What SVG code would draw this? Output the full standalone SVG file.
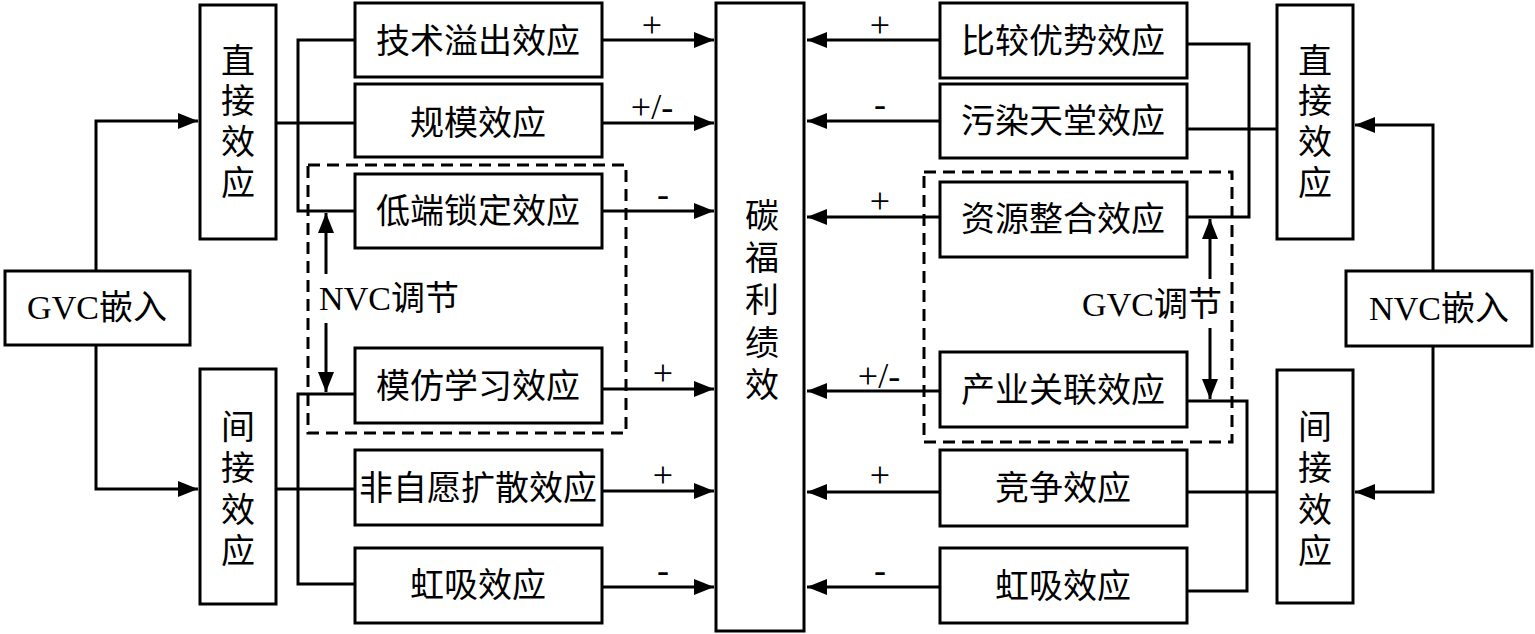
<svg xmlns="http://www.w3.org/2000/svg" width="1535" height="634" viewBox="0 0 1535 634">
<defs>
<style>
.box{fill:#fff;stroke:#000;stroke-width:3}
.dash{fill:none;stroke:#000;stroke-width:3;stroke-dasharray:12 7}
.ln{fill:none;stroke:#000;stroke-width:3}
.t{font-family:"Liberation Serif","Noto Sans CJK SC",serif;font-size:34px;text-anchor:middle;dominant-baseline:central;fill:#000}
.s{font-family:"Liberation Serif",serif;font-size:36px;text-anchor:middle;fill:#000}
</style>
<marker id="ah" markerUnits="userSpaceOnUse" markerWidth="22" markerHeight="16" refX="20" refY="8" orient="auto">
<path d="M0,0 L20,8 L0,16 Z" fill="#000"/>
</marker>
</defs>
<rect width="1535" height="634" fill="#fff"/>

<g id="connectors">
<path class="ln" d="M96,271 V121 H198" marker-end="url(#ah)"/>
<path class="ln" d="M96,345 V489 H198" marker-end="url(#ah)"/>
<path class="ln" d="M276,123 H355"/>
<path class="ln" d="M355,40 H298 V211 H355"/>
<path class="ln" d="M276,489 H355"/>
<path class="ln" d="M355,394 H298 V584 H355"/>
<path class="ln" d="M602,40 H714" marker-end="url(#ah)"/>
<path class="ln" d="M602,123 H714" marker-end="url(#ah)"/>
<path class="ln" d="M602,211 H714" marker-end="url(#ah)"/>
<path class="ln" d="M602,389 H714" marker-end="url(#ah)"/>
<path class="ln" d="M602,491 H714" marker-end="url(#ah)"/>
<path class="ln" d="M602,587 H714" marker-end="url(#ah)"/>
<path class="ln" d="M940,40 H807" marker-end="url(#ah)"/>
<path class="ln" d="M940,121 H807" marker-end="url(#ah)"/>
<path class="ln" d="M940,217 H807" marker-end="url(#ah)"/>
<path class="ln" d="M940,391 H807" marker-end="url(#ah)"/>
<path class="ln" d="M940,492 H807" marker-end="url(#ah)"/>
<path class="ln" d="M940,587 H807" marker-end="url(#ah)"/>
<path class="ln" d="M1433,271 V125 H1355" marker-end="url(#ah)"/>
<path class="ln" d="M1433,346 V492 H1355" marker-end="url(#ah)"/>
<path class="ln" d="M1187,129 H1277"/>
<path class="ln" d="M1187,44 H1249 V217 H1187"/>
<path class="ln" d="M1187,492 H1277"/>
<path class="ln" d="M1187,401 H1247 V591 H1187"/>
<path class="ln" d="M326,274 V213" marker-end="url(#ah)"/>
<path class="ln" d="M326,323 V392" marker-end="url(#ah)"/>
<path class="ln" d="M1210,279 V219" marker-end="url(#ah)"/>
<path class="ln" d="M1210,328 V399" marker-end="url(#ah)"/>
<text class="s" x="652" y="37">+</text>
<text class="s" x="652" y="119">+/-</text>
<text class="s" x="663" y="206">-</text>
<text class="s" x="663" y="385">+</text>
<text class="s" x="663" y="487">+</text>
<text class="s" x="663" y="582">-</text>
<text class="s" x="880" y="37">+</text>
<text class="s" x="880" y="116">-</text>
<text class="s" x="880" y="213">+</text>
<text class="s" x="879" y="388">+/-</text>
<text class="s" x="880" y="487">+</text>
<text class="s" x="880" y="582">-</text>
</g>

<g id="nvc-mod">
<rect class="dash" x="308" y="165" width="318" height="268"/>
<text class="t" x="389" y="298">NVC调节</text>
</g>
<g id="gvc-mod">
<rect class="dash" x="924" y="172" width="308" height="270"/>
<text class="t" x="1152" y="304">GVC调节</text>
</g>

<g id="gvc-embed"><rect class="box" x="5" y="271" width="185" height="74"/><text class="t" x="97" y="307">GVC嵌入</text></g>
<g id="l-direct"><rect class="box" x="200" y="5" width="76" height="234"/>
<text class="t" x="238" y="61">直</text><text class="t" x="238" y="101">接</text><text class="t" x="238" y="142">效</text><text class="t" x="238" y="183">应</text></g>
<g id="l-indirect"><rect class="box" x="200" y="369" width="76" height="235"/>
<text class="t" x="238" y="427">间</text><text class="t" x="238" y="468">接</text><text class="t" x="238" y="510">效</text><text class="t" x="238" y="551">应</text></g>

<g id="l1"><rect class="box" x="355" y="3" width="247" height="74"/><text class="t" x="478" y="41">技术溢出效应</text></g>
<g id="l2"><rect class="box" x="355" y="84" width="247" height="73"/><text class="t" x="478" y="123">规模效应</text></g>
<g id="l3"><rect class="box" x="355" y="174" width="247" height="74"/><text class="t" x="478" y="211">低端锁定效应</text></g>
<g id="l4"><rect class="box" x="355" y="348" width="247" height="75"/><text class="t" x="478" y="386">模仿学习效应</text></g>
<g id="l5"><rect class="box" x="355" y="450" width="247" height="75"/><text class="t" x="478" y="488">非自愿扩散效应</text></g>
<g id="l6"><rect class="box" x="355" y="548" width="247" height="75"/><text class="t" x="478" y="585">虹吸效应</text></g>

<g id="center"><rect class="box" x="716" y="3" width="88" height="628"/>
<text class="t" x="762" y="216">碳</text><text class="t" x="762" y="258">福</text><text class="t" x="762" y="300">利</text><text class="t" x="762" y="343">绩</text><text class="t" x="762" y="385">效</text></g>

<g id="r1"><rect class="box" x="940" y="3" width="247" height="75"/><text class="t" x="1063" y="41">比较优势效应</text></g>
<g id="r2"><rect class="box" x="940" y="84" width="247" height="74"/><text class="t" x="1063" y="121">污染天堂效应</text></g>
<g id="r3"><rect class="box" x="940" y="182" width="247" height="75"/><text class="t" x="1063" y="219">资源整合效应</text></g>
<g id="r4"><rect class="box" x="940" y="352" width="247" height="75"/><text class="t" x="1063" y="390">产业关联效应</text></g>
<g id="r5"><rect class="box" x="940" y="450" width="247" height="76"/><text class="t" x="1063" y="488">竞争效应</text></g>
<g id="r6"><rect class="box" x="940" y="548" width="247" height="75"/><text class="t" x="1063" y="586">虹吸效应</text></g>

<g id="r-direct"><rect class="box" x="1277" y="5" width="76" height="234"/>
<text class="t" x="1315" y="61">直</text><text class="t" x="1315" y="101">接</text><text class="t" x="1315" y="142">效</text><text class="t" x="1315" y="183">应</text></g>
<g id="r-indirect"><rect class="box" x="1277" y="370" width="76" height="233"/>
<text class="t" x="1315" y="427">间</text><text class="t" x="1315" y="468">接</text><text class="t" x="1315" y="510">效</text><text class="t" x="1315" y="551">应</text></g>
<g id="nvc-embed"><rect class="box" x="1346" y="271" width="186" height="75"/><text class="t" x="1439" y="308">NVC嵌入</text></g>
</svg>
